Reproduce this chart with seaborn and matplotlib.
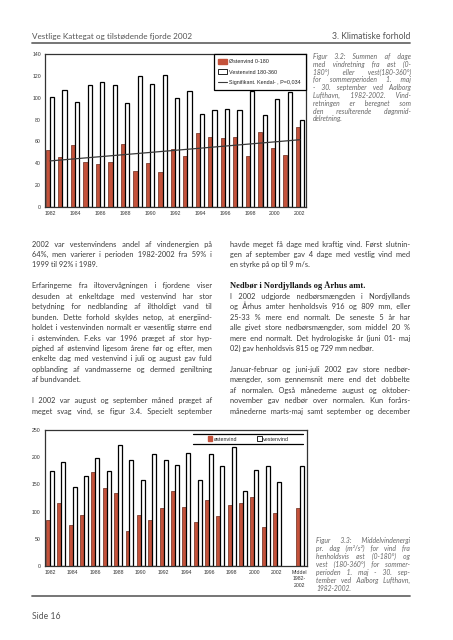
import numpy as np
import pandas as pd
import matplotlib
matplotlib.use("Agg")
import matplotlib.pyplot as plt
import seaborn as sns
from matplotlib.patches import Patch
from matplotlib.lines import Line2D

# ---------------- data ----------------
years = list(range(1982, 2003))
east_days = [52, 46, 57, 41, 39, 41, 58, 33, 40, 32, 53, 47, 68, 64, 63, 64, 47, 69, 54, 48, 73]
west_days = [101, 107, 96, 112, 114, 112, 95, 120, 113, 121, 100, 106, 85, 89, 90, 89, 106, 84, 99, 105, 80]
east_energy = [84, 115, 76, 93, 172, 143, 134, 64, 93, 84, 106, 137, 108, 80, 121, 91, 112, 115, 126, 71, 98]
west_energy = [174, 191, 146, 166, 199, 174, 223, 194, 159, 205, 195, 185, 208, 159, 205, 183, 218, 137, 176, 183, 155]
mean_label = "Middel"
mean_tick_label = "Middel\n1982-\n2002"
east_energy_mean = 106
west_energy_mean = 183

legend1_labels = ["Østenvind 0-180", "Vestenvind 180-360", "Signifikant. Kendal- , P=0,034"]
legend2_labels = ["østenvind", "vestenvind"]

header_left = "Vestlige Kattegat og tilstødende fjorde 2002"
header_right = "3. Klimatiske forhold"
footer = "Side 16"

caption1 = ["Figur 3.2: Summen af dage",
            "med vindretning fra øst (0-",
            "180°) eller vest(180-360°)",
            "for sommerperioden 1. maj",
            "- 30. september ved Aalborg",
            "Lufthavn, 1982-2002. Vind-",
            "retningen er beregnet som",
            "den resulterende døgnmid-",
            "delretning."]
caption2 = ["Figur 3.3: Middelvindenergi",
            "pr. dag (m²/s²) for vind fra",
            "henholdsvis øst (0-180°) og",
            "vest (180-360°) for sommer-",
            "perioden 1. maj - 30. sep-",
            "tember ved Aalborg Lufthavn,",
            "1982-2002."]

left_col = [
    ("2002 var vestenvindens andel af vindenergien på", True),
    ("64%, men varierer i perioden 1982-2002 fra 59% i", True),
    ("1999 til 92% i 1989.", False),
    ("", False),
    ("Erfaringerne fra iltovervågningen i fjordene viser", True),
    ("desuden at enkeltdage med vestenvind har stor", True),
    ("betydning for nedblanding af iltholdigt vand til", True),
    ("bunden. Dette forhold skyldes netop, at energiind-", True),
    ("holdet i vestenvinden normalt er væsentlig større end", True),
    ("i østenvinden. F.eks var 1996 præget af stor hyp-", True),
    ("pighed af østenvind ligesom årene før og efter, men", True),
    ("enkelte dag med vestenvind i juli og august gav fuld", True),
    ("opblanding af vandmasserne og dermed geniltning", True),
    ("af bundvandet.", False),
    ("", False),
    ("I 2002 var august og september måned præget af", True),
    ("meget svag vind, se figur 3.4. Specielt september", True),
]
right_col = [
    ("havde meget få dage med kraftig vind. Først slutnin-", True),
    ("gen af september gav 4 dage med vestlig vind med", True),
    ("en styrke på op til 9 m/s.", False),
    ("", False),
    ("Nedbør i Nordjyllands og Århus amt.", "head"),
    ("I 2002 udgjorde nedbørsmængden i Nordjyllands", True),
    ("og Århus amter henholdsvis 916 og 809 mm,  eller", True),
    ("25-33 % mere end normalt. De seneste 5 år har", True),
    ("alle givet store nedbørsmængder, som middel 20 %", True),
    ("mere end normalt. Det hydrologiske år (juni 01- maj", True),
    ("02) gav henholdsvis 815 og 729 mm nedbør.", False),
    ("", False),
    ("Januar-februar og juni-juli 2002 gav store nedbør-", True),
    ("mængder, som gennemsnit mere end det dobbelte", True),
    ("af normalen. Også månederne august og oktober-", True),
    ("november gav nedbør over normalen. Kun forårs-", True),
    ("månederne marts-maj samt september og december", True),
]

# ---------------- style ----------------
sns.set_theme(style="white")
plt.rcParams["font.family"] = ["Lato", "DejaVu Sans"]

W, H = 453, 640
fig = plt.figure(figsize=(W / 100, H / 100), dpi=100)
fig.patch.set_facecolor("white")

RED = "#c4523b"
TEXT = "#3a3a3a"
TICKFONT = ["Liberation Sans", "DejaVu Sans"]


def fx(x):
    return x / W


def fy(y):
    return 1 - y / H


renderer = fig.canvas.get_renderer()
_cache = {}


def measure(s, **kw):
    key = (s, tuple(sorted((k, str(v)) for k, v in kw.items())))
    if key in _cache:
        return _cache[key]
    t = fig.text(0, 0, s, **kw)
    w = t.get_window_extent(renderer=renderer).width
    t.remove()
    _cache[key] = w
    return w


SPACES = ["\u200a", "\u2006", "\u2009", "\u2005"]


def space_width(ch, **kw):
    return measure("a" + ch + "a", **kw) - measure("aa", **kw)


def justify_string(text, target, **kw):
    words = text.split()
    n = len(words)
    if n < 2:
        return text
    fine = None
    for ch in SPACES:
        wch = space_width(ch, **kw)
        if wch > 0.2:
            fine = (ch, wch)
            break
    if fine is None:
        fine = (" ", space_width(" ", **kw))
    fch, fw = fine
    base = "\u2009"
    bw = space_width(base, **kw)
    sumw = measure("".join(words), **kw)
    g = (target - sumw) / (n - 1)
    use_base = g >= bw
    rem = (g - bw) if use_base else g
    k_total = max(0, int(round(rem * (n - 1) / fw)))

    def build(k_total):
        parts = []
        q, r = divmod(k_total, n - 1)
        # spread the remainder evenly across gaps
        extra_idx = set(int(round((i + 0.5) * (n - 1) / r - 0.5)) for i in range(r)) if r else set()
        for i, w in enumerate(words):
            parts.append(w)
            if i < n - 1:
                parts.append((base if use_base else "") + fch * (q + (1 if i in extra_idx else 0)))
        return "".join(parts)

    s = build(k_total)
    for _ in range(3):
        diff = target - measure(s, **kw)
        step = int(round(diff / fw))
        if step == 0:
            break
        k_total = max(0, k_total + step)
        s = build(k_total)
    return s


def place_line(text, x0, x1, yb, justify, **kw):
    if not text:
        return
    s = justify_string(text, x1 - x0, **kw) if justify else text
    fig.text(fx(x0), fy(yb), s, ha="left", va="baseline", **kw)


# ---------------- header / footer ----------------
fig.text(fx(32), fy(39), header_left, ha="left", va="baseline", fontsize=5.9, color="#555555")
fig.text(fx(410), fy(39), header_right, ha="right", va="baseline", fontsize=6.2, color="#555555")
fig.add_artist(Line2D([fx(32), fx(410)], [fy(42.5), fy(42.5)], color="#6a6a6a", lw=1.3))
fig.add_artist(Line2D([fx(32), fx(410)], [fy(596), fy(596)], color="#6a6a6a", lw=1.3))
fig.text(fx(32), fy(619), footer, ha="left", va="baseline", fontsize=6.2, color="#555555")

# ---------------- body text ----------------
body_kw = dict(fontsize=5.35, color=TEXT)
y0, dy = 246.5, 10.45
for k, (line, j) in enumerate(left_col):
    place_line(line, 32, 212, y0 + k * dy, j, **body_kw)
for k, (line, j) in enumerate(right_col):
    if j == "head":
        fig.text(fx(230), fy(y0 + k * dy), line, ha="left", va="baseline", fontsize=6.1,
                 fontweight="bold", family=["Liberation Serif", "DejaVu Serif"], color="#151515")
    else:
        place_line(line, 230, 410, y0 + k * dy, j, **body_kw)

cap_kw = dict(fontsize=4.9, color="#666666", style="italic")
for k, line in enumerate(caption1):
    place_line(line, 313, 411, 59 + k * 7.8, k < len(caption1) - 1, **cap_kw)
for k, line in enumerate(caption2):
    place_line(line, 316.5, 410.5, 543 + k * 7.93, k < len(caption2) - 1, **cap_kw)

# ---------------- chart 1 ----------------
ax1 = fig.add_axes([fx(45), fy(207), (306 - 45) / W, (207 - 54) / H])
order1 = [str(y) for y in years]
df1 = pd.DataFrame({
    "year": order1 * 2,
    "group": ["Østenvind"] * len(years) + ["Vestenvind"] * len(years),
    "value": east_days + west_days,
})
sns.barplot(data=df1, x="year", y="value", hue="group", order=order1,
            hue_order=["Østenvind", "Vestenvind"],
            palette={"Østenvind": RED, "Vestenvind": "white"},
            width=0.7, ax=ax1, legend=False, saturation=1)
for p in ax1.containers[0]:
    p.set_edgecolor("#6b2a1c"); p.set_linewidth(0.5)
for p in ax1.containers[1]:
    p.set_edgecolor("black"); p.set_linewidth(0.9)

xs = np.arange(len(years))
coef = np.polyfit(xs, east_days, 1)
ax1.plot(xs, np.polyval(coef, xs), color="#3a3a3a", lw=0.9, zorder=5)

ax1.set_xlim(-0.4, 20.48)
ax1.set_ylim(0, 140)
ax1.set_yticks(range(0, 141, 20))
ax1.set_xticks(range(0, len(years), 2))
ax1.set_xticklabels([str(y) for y in years[::2]])
ax1.set_xlabel("")
ax1.set_ylabel("")
for s in ax1.spines.values():
    s.set_color("#333333"); s.set_linewidth(0.9)
ax1.tick_params(axis="both", labelsize=3.7, colors="#333333", length=0, pad=3)
for lab in ax1.get_xticklabels() + ax1.get_yticklabels():
    lab.set_family(TICKFONT)

h1 = [Patch(facecolor=RED, edgecolor=RED),
      Patch(facecolor="white", edgecolor="black", linewidth=0.6),
      Line2D([0], [0], color="#3a3a3a", lw=0.8)]
leg1 = ax1.legend(h1, legend1_labels, loc="upper right", borderaxespad=0.05,
                  fontsize=3.9, frameon=True, fancybox=False, framealpha=1,
                  edgecolor="black", handlelength=1.5, handleheight=0.9,
                  labelspacing=0.95, borderpad=0.9, handletextpad=0.5)
leg1.get_frame().set_linewidth(0.9)
for t in leg1.get_texts():
    t.set_family(TICKFONT); t.set_color("#222222")

# ---------------- chart 2 ----------------
ax2 = fig.add_axes([fx(44.5), fy(566), (306.5 - 44.5) / W, (566 - 430) / H])
cats2 = [str(y) for y in years] + [mean_label]
order2 = [str(y) for y in years] + [" ", mean_label]
df2 = pd.DataFrame({
    "year": cats2 * 2,
    "group": ["østenvind"] * len(cats2) + ["vestenvind"] * len(cats2),
    "value": east_energy + [east_energy_mean] + west_energy + [west_energy_mean],
})
sns.barplot(data=df2, x="year", y="value", hue="group", order=order2,
            hue_order=["østenvind", "vestenvind"],
            palette={"østenvind": RED, "vestenvind": "white"},
            width=0.7, ax=ax2, legend=False, saturation=1)
for p in ax2.containers[0]:
    p.set_edgecolor("#6b2a1c"); p.set_linewidth(0.5)
for p in ax2.containers[1]:
    p.set_edgecolor("black"); p.set_linewidth(0.9)

ax2.set_xlim(-0.49, 22.6)
ax2.set_ylim(0, 250)
ax2.set_yticks(range(0, 251, 50))
ticks2 = list(range(0, len(years), 2)) + [len(order2) - 1]
ax2.set_xticks(ticks2)
ax2.set_xticklabels([str(y) for y in years[::2]] + [mean_tick_label], linespacing=1.3)
ax2.set_xlabel("")
ax2.set_ylabel("")
for s in ax2.spines.values():
    s.set_color("#333333"); s.set_linewidth(0.9)
ax2.tick_params(axis="both", labelsize=3.7, colors="#333333", length=0, pad=3)
for lab in ax2.get_xticklabels() + ax2.get_yticklabels():
    lab.set_family(TICKFONT)

h2 = [Patch(facecolor=RED, edgecolor=RED),
      Patch(facecolor="white", edgecolor="black", linewidth=0.6)]
leg2 = ax2.legend(h2, legend2_labels, loc="center", bbox_to_anchor=(0.779, 0.934),
                  ncol=2, fontsize=3.9, frameon=False, handlelength=0.8,
                  handleheight=0.9, handletextpad=0.3, columnspacing=3.7)
for t in leg2.get_texts():
    t.set_family(TICKFONT); t.set_color("#222222")
for yy in (0.971, 0.897):
    ax2.add_line(Line2D([0.567, 0.987], [yy, yy], transform=ax2.transAxes,
                        color="black", lw=0.9, clip_on=False))

fig.savefig("out.png", dpi=100, facecolor="white")
